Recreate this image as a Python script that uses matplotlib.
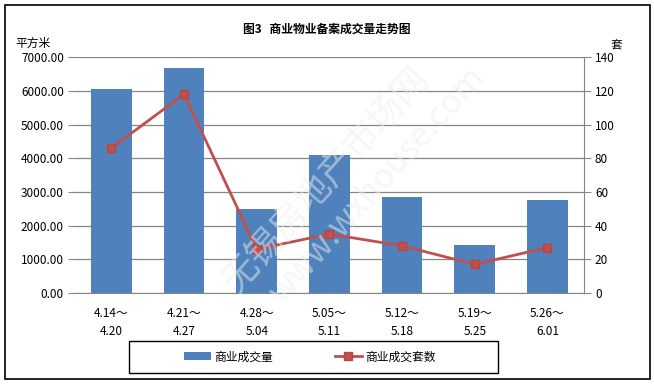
import numpy as np
import matplotlib
matplotlib.use("Agg")
from matplotlib import pyplot as plt
from matplotlib.patches import Rectangle

plt.rcParams['font.family'] = ['Noto Sans CJK SC', 'DejaVu Sans']

weeks = ["4.14～\n4.20", "4.21～\n4.27", "4.28～\n5.04", "5.05～\n5.11",
         "5.12～\n5.18", "5.19～\n5.25", "5.26～\n6.01"]
area = [6050, 6680, 2490, 4090, 2850, 1420, 2760]
units = [86, 118, 26, 35, 28, 17, 27]

bar_color = "#4f81bd"
line_color = "#c0504d"
grid_color = "#868686"

fig = plt.figure(figsize=(6.54, 3.88), dpi=100)
fig.patches.append(Rectangle((0.008, 0.022), 0.986, 0.965, transform=fig.transFigure,
                             fill=False, edgecolor="black", linewidth=1.2))
# legend frame
fig.patches.append(Rectangle((129 / 654, 1 - 373 / 388), 369 / 654, 32 / 388,
                             transform=fig.transFigure, fill=False,
                             edgecolor="black", linewidth=1))

ax = fig.add_axes([0.1147, 0.2448, 0.778, 0.608])
x = np.arange(len(weeks))
bars = ax.bar(x, area, width=0.56, color=bar_color, zorder=2)
ax.set_ylim(0, 7000)
ax.set_yticks(np.arange(0, 7001, 1000))
ax.set_yticklabels(["%.2f" % v for v in np.arange(0, 7001, 1000)], fontsize=8.5)
ax.set_xlim(-0.5, len(weeks) - 0.5)
ax.set_xticks(x)
ax.set_xticklabels(weeks, fontsize=8.5, linespacing=1.5)
ax.tick_params(axis='x', length=0, pad=10)
ax.tick_params(axis='y', length=5, color=grid_color, pad=3)
ax.grid(axis='y', color=grid_color, linewidth=0.9, zorder=0)
for s in ['top', 'left', 'right']:
    ax.spines[s].set_visible(False)
ax.spines['bottom'].set_color(grid_color)

ax2 = ax.twinx()
line, = ax2.plot(x, units, color=line_color, linewidth=2, marker='s', markersize=6,
                 markerfacecolor=line_color, markeredgecolor="#b84440", zorder=3)
ax2.set_ylim(0, 140)
ax2.set_yticks(np.arange(0, 141, 20))
ax2.tick_params(axis='y', length=5, color=grid_color, labelsize=8.5, pad=3)
for s in ['top', 'left', 'bottom']:
    ax2.spines[s].set_visible(False)
ax2.spines['right'].set_color(grid_color)

fig.text(0.5, 0.925, "图3   商业物业备案成交量走势图", ha='center', va='center',
         fontsize=8.5, fontweight='bold')
fig.text(0.024, 0.888, "平方米", fontsize=8.5, va='center')
fig.text(0.933, 0.882, "套", fontsize=8.5, va='center')

# faint watermark
fig.text(0.33, 0.25, "无锡房地产市场网", fontsize=26, rotation=48, color="#eeeeee",
         alpha=0.5, zorder=10)
fig.text(0.40, 0.22, "www.wxhouse.com", fontsize=24, rotation=48, color="#eeeeee",
         alpha=0.5, zorder=10)

fig.legend(handles=[bars, line], labels=["商业成交量", "商业成交套数"],
           loc='center', bbox_to_anchor=(0.474, 0.080), ncol=2, fontsize=8.5,
           frameon=False, columnspacing=5.2, handlelength=2.3, handletextpad=0.3)

fig.savefig("out.png", dpi=100)
